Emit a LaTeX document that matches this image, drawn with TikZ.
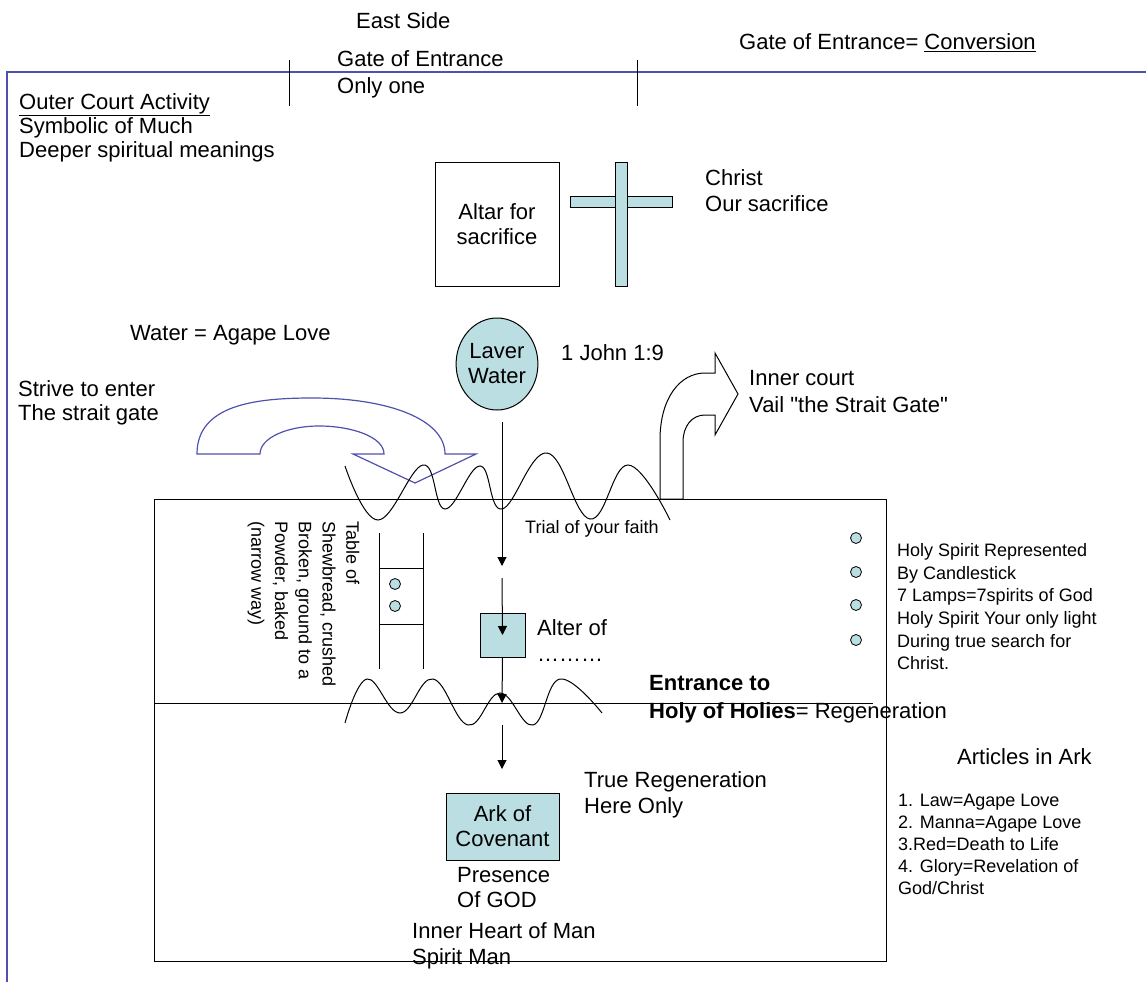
\documentclass[tikz,border=0pt]{standalone}
\usepackage{fontspec}
\setmainfont{Liberation Sans}
\newfontfamily\plainfont{Liberation Sans}
\usetikzlibrary{arrows.meta,shapes.geometric}
\definecolor{pale}{RGB}{186,222,226}
\definecolor{wall}{RGB}{80,80,175}
\begin{document}
\begin{tikzpicture}[x=1pt,y=-1pt,
  txt/.style={font=\fontsize{22}{24}\selectfont, inner sep=0pt, align=left, anchor=north west},
  stxt/.style={font=\fontsize{18}{22.6}\selectfont, inner sep=0pt, align=left, anchor=north west},
  ln/.style={line width=1pt},
  tip/.style={-{Triangle[width=9pt,length=9pt]}, line width=1pt},
  wave/.style={line width=1pt, smooth, tension=0.7},
  bar/.style={draw, line width=1pt, fill=pale}]
\useasboundingbox (0,0) rectangle (1146,982);
% outer court wall
\draw[wall, line width=1.2pt] (1146,72) -- (7,72) -- (7,982);
% gate marks
\draw[ln] (289,60) -- (289,106);
\draw[ln] (637,60) -- (637,106);
% texts at top
\node[txt] (east) at (356,12) {East Side};
\node[txt, font=\fontsize{22}{27}\selectfont] (gate) at (337,50) {Gate of Entrance\\Only one};
\node[txt] (conv) at (739,33) {Gate of Entrance= \underline{Conversion}};
\node[txt] (outer) at (19,93) {\underline{Outer Court Activity}\\Symbolic of Much\\Deeper spiritual meanings};
% altar and cross
\node[draw, ln, minimum width=124pt, minimum height=124pt, align=center, inner sep=0pt, font=\fontsize{22}{25}\selectfont] (altar) at (497,224) {Altar for\\sacrifice};
\path[bar] (570,196) rectangle (672,207);
\path[bar] (615,162) rectangle (627,286);
\node[txt, font=\fontsize{22}{26}\selectfont] (christ) at (705,169) {Christ\\Our sacrifice};
% laver
\node[txt] (water) at (130,325) {Water = Agape Love};
\node[ellipse, draw, ln, fill=pale, minimum width=80pt, minimum height=92pt, inner sep=0pt, align=center, font=\fontsize{22}{25}\selectfont] (laver) at (497,364) {Laver\\Water};
\node[txt] (john) at (561,344) {1 John 1:9};
\node[txt] (strive) at (18,380) {Strive to enter\\The strait gate};
\node[txt, font=\fontsize{22}{27}\selectfont] (inner) at (749,370) {Inner court\\{\plainfont Vail "the Strait Gate"}};
% blue curved arrow
\draw[wall, line width=1.2pt] (197,454) .. controls (197,405) and (255,398) .. (312,398)
  .. controls (390,398) and (445,420) .. (445,454) -- (476,454) -- (415,483) -- (353,454) -- (384,454)
  .. controls (384,437) and (352,426) .. (319,426) .. controls (287,426) and (260,438) .. (260,454) -- cycle;
% inner court arrow
\draw[ln, line join=miter] (660,499) -- (660,440) .. controls (660,398) and (680,373) .. (705,373) -- (715,373)
  -- (715,353) -- (738,394) -- (715,435) -- (715,415) -- (705,415)
  .. controls (692,415) and (683,426) .. (683,442) -- (683,499) -- cycle;
% holy place box
\draw[ln] (154,499) rectangle (886,961);
\draw[ln] (154,703) -- (873,703);
% veils (waves)
\draw[wave] plot coordinates {(345,466) (378,520) (423,465) (445,509) (480,466) (502,509) (547,453) (590,519) (628,465) (670,520)};
\draw[wave] plot coordinates {(345,723) (367,679) (400,713) (433,679) (468,725) (500,693) (533,725) (560,679) (602,713)};
% table of shewbread
\draw[ln] (379,533) -- (379,669);
\draw[ln] (423,533) -- (423,669);
\draw[ln] (379,568) -- (423,568);
\draw[ln] (379,624) -- (423,624);
\node[circle, draw, line width=0.8pt, fill=pale, minimum size=11pt, inner sep=0pt] (loaf1) at (395,584) {};
\node[circle, draw, line width=0.8pt, fill=pale, minimum size=11pt, inner sep=0pt] (loaf2) at (395,606) {};
\node[stxt, rotate=-90, font=\fontsize{18}{23.7}\selectfont] (table) at (359.5,521) {Table of\\Shewbread, crushed\\Broken, ground to a\\Powder, baked\\(narrow way)};
\node[stxt] (trial) at (525,520) {Trial of your faith};
% altar of incense
\node[draw, ln, fill=pale, minimum width=45pt, minimum height=44pt, inner sep=0pt] (altr) at (502.5,635) {};
\node[txt] (alterof) at (537,619) {Alter of};
\node[txt, anchor=base west] (dots) at (537,661) {………};
% candlestick
\foreach \yy/\nm in {538/c1,572/c2,605/c3,640/c4}
  \node[circle, draw, line width=0.8pt, fill=pale, minimum size=11pt, inner sep=0pt] (\nm) at (856,\yy) {};
\node[stxt] (holy) at (897,543.5) {Holy Spirit Represented\\By Candlestick\\7 Lamps=7spirits of God\\Holy Spirit Your only light\\During true search for\\Christ.};
% holy of holies
\node[txt, font=\fontsize{22}{28.5}\selectfont] (entr) at (649,675) {\textbf{Entrance to}\\\textbf{Holy of Holies}= Regeneration};
\node[txt, font=\fontsize{22}{26}\selectfont] (truer) at (584,771) {True Regeneration\\Here Only};
\node[draw, ln, fill=pale, minimum width=113pt, minimum height=67pt, align=center, inner sep=0pt, font=\fontsize{22}{25}\selectfont] (ark) at (502.5,826.5) {Ark of\\Covenant};
\node[txt, font=\fontsize{22}{25}\selectfont] (presence) at (457,867) {Presence\\Of GOD};
\node[txt, font=\fontsize{22}{26.5}\selectfont] (heart) at (412,922) {Inner Heart of Man\\Spirit Man};
\node[txt] (articles) at (957,748) {Articles in Ark};
\node[stxt, font=\fontsize{18}{22}\selectfont] (list) at (898,794) {1. Law=Agape Love\\2. Manna=Agape Love\\3.Red=Death to Life\\4. Glory=Revelation of\\God/Christ};
% arrows down the centre
\coordinate (a1s) at (502,422);
\coordinate (a1e) at (502,566);
\coordinate (a2s) at (502,578);
\coordinate (a3e) at (502,703);
\coordinate (a4s) at (502,725);
\coordinate (a4e) at (502,769);
\draw[tip] (a1s) -- (a1e);
\draw[tip] (a2s) -- (altr.center);
\draw[tip] (altr.south) -- (a3e);
\draw[tip] (a4s) -- (a4e);
\end{tikzpicture}
\end{document}
